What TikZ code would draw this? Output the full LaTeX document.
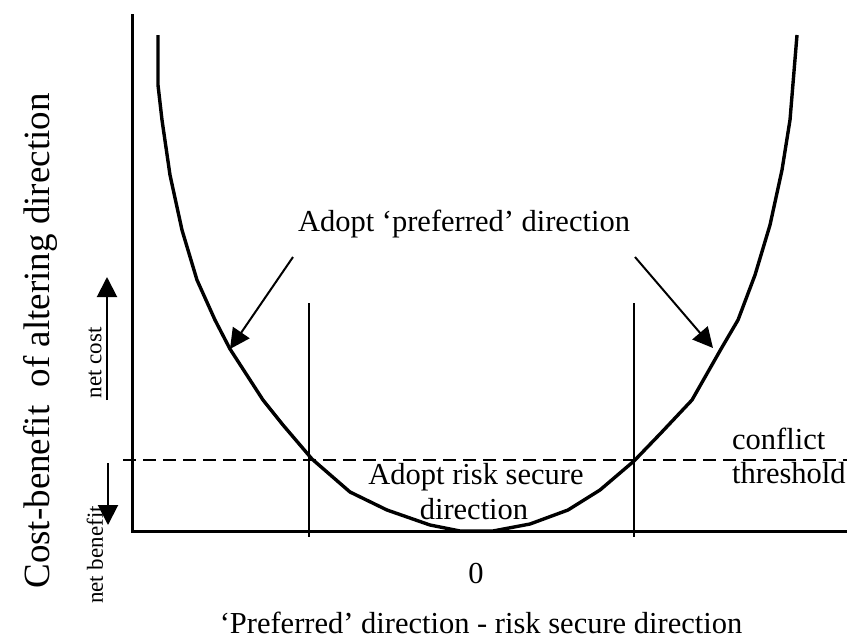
\documentclass[tikz,border=0pt]{standalone}
\usepackage{fontspec}
\setmainfont{Liberation Serif}
\usetikzlibrary{arrows.meta}
\begin{document}
\begin{tikzpicture}[x=1pt,y=-1pt,
  lbl/.style={font=\fontsize{30.5}{35}\selectfont, inner sep=0pt},
  ylbl/.style={font=\fontsize{37}{40}\selectfont, inner sep=0pt, rotate=90},
  small/.style={font=\fontsize{23}{26}\selectfont, inner sep=0pt, rotate=90},
  axisline/.style={line width=3pt},
  ucurve/.style={line width=3.4pt, line join=round},
  guide/.style={line width=1.5pt},
  thr/.style={line width=2.8pt, dash pattern=on 13pt off 7pt},
  ann/.style={line width=2pt, -{Triangle[length=20pt,width=20pt]}},
]
\useasboundingbox (0,0) rectangle (847,641);
% axes
\coordinate (o) at (132,531);
\coordinate (ytop) at (132,14);
\coordinate (xend) at (847,531);
\draw[axisline] (ytop) -- (132,532.5);
\draw[axisline] (o) -- (xend);
% threshold
\coordinate (t0) at (123,460);
\coordinate (t1) at (847,460);
\draw[thr] (t0) -- (t1);
% guides
\coordinate (g1a) at (309,303); \coordinate (g1b) at (309,537);
\coordinate (g2a) at (634,303); \coordinate (g2b) at (634,537);
\draw[guide] (g1a) -- (g1b);
\draw[guide] (g2a) -- (g2b);
% U curve
\draw[ucurve] (158,35) -- (158,85) -- (162,120) -- (170,175) -- (182,230) -- (197,280)
  -- (215,320) -- (230,349) -- (263,400) -- (283,425) -- (312,459) -- (350,492)
  -- (387,510) -- (430,525) -- (460,531) -- (493,531) -- (530,524) -- (568,510)
  -- (600,490) -- (634,461) -- (660,434) -- (692,400) -- (721,349) -- (738,320)
  -- (755,275) -- (770,225) -- (782,170) -- (790,120) -- (797,35);
% labels
\node[lbl, anchor=base] (pref) at (464,231) {Adopt ‘preferred’ direction};
\coordinate (la) at (293,257); \coordinate (lt) at (230,349);
\coordinate (ra) at (635,257); \coordinate (rt) at (713,348);
\draw[ann] (la) -- (lt);
\draw[ann] (ra) -- (rt);
\node[lbl, anchor=base] (safe) at (476,484) {Adopt risk secure};
\node[lbl, anchor=base] (safe2) at (474,519) {direction};
\node[lbl, anchor=base west] (conf) at (732,449) {conflict};
\node[lbl, anchor=base west] (thrl) at (732,483) {threshold};
\node[lbl, anchor=base] (zero) at (476,583) {0};
\node[lbl, anchor=base] (xl) at (481,633) {‘Preferred’ direction - risk secure direction};
\node[ylbl] (yl) at (40,341) {Cost-benefit\ \ of altering direction};
\node[small] (nc) at (95,363) {net cost};
\node[small] (nb) at (95,555) {net benefit};
\coordinate (ua) at (107,400); \coordinate (ut) at (107,277);
\coordinate (da) at (108,463); \coordinate (dt) at (108,525);
\draw[ann] (ua) -- (ut);
\draw[ann] (da) -- (dt);
\end{tikzpicture}
\end{document}
